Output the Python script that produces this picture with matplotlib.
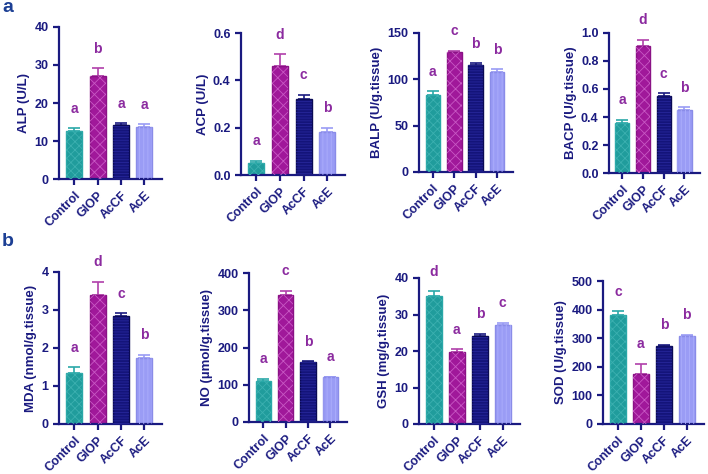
import matplotlib
matplotlib.use("Agg")
import matplotlib.pyplot as plt

plt.rcParams['font.family'] = ['Liberation Sans', 'DejaVu Sans']
plt.rcParams['hatch.linewidth'] = 0.6

# ---------------------------- data ----------------------------
groups = ['Control', 'GIOP', 'AcCF', 'AcE']

alp = [12.7, 27.2, 14.2, 13.7]
alp_err = [0.6, 2.0, 0.5, 0.7]
alp_sig = ['a', 'b', 'a', 'a']

acp = [0.05, 0.46, 0.32, 0.18]
acp_err = [0.01, 0.05, 0.02, 0.02]
acp_sig = ['a', 'd', 'c', 'b']

balp = [83, 129, 116, 108]
balp_err = [4, 2, 1.5, 3]
balp_sig = ['a', 'c', 'b', 'b']

bacp = [0.36, 0.91, 0.55, 0.45]
bacp_err = [0.02, 0.04, 0.02, 0.02]
bacp_sig = ['a', 'd', 'c', 'b']

mda = [1.35, 3.4, 2.83, 1.75]
mda_err = [0.15, 0.35, 0.08, 0.07]
mda_sig = ['a', 'd', 'c', 'b']

no = [110, 342, 160, 120]
no_err = [6, 10, 3, 2]
no_sig = ['a', 'c', 'b', 'a']

gsh = [35.2, 19.7, 24.2, 27.2]
gsh_err = [1.2, 0.8, 0.5, 0.5]
gsh_sig = ['d', 'a', 'b', 'c']

sod = [380, 176, 272, 306]
sod_err = [15, 35, 5, 6]
sod_sig = ['c', 'a', 'b', 'b']

# ---------------------------- style ---------------------------
NAVY = '#1a1a80'
SIG_COLOR = '#8b2a9f'
FACE = ['#209c9c', '#a0189a', '#14147a', '#9a9cf5']
EDGE = ['#2aa8a8', '#8a1285', '#0a0a55', '#8a8ce8']
HATCH = ['xxxx', 'xxx', '------', '||||']
HATCH_COLOR = ['#3cb0b0', '#c858c4', '#26269a', '#acaefc']
ERR_COLOR = ['#2aa8a8', '#b040aa', '#1a1a80', '#9a9cf5']

W, H = 708, 474

# panel rectangles in pixels: left, right, top, bottom
panels = [
    (alp, alp_err, alp_sig, 'ALP (U/L)', 40, 10, '{:.0f}', (59, 162, 27, 179)),
    (acp, acp_err, acp_sig, 'ACP (U/L)', 0.6, 0.2, '{:.1f}', (241, 345, 33, 175)),
    (balp, balp_err, balp_sig, 'BALP (U/g.tissue)', 150, 50, '{:.0f}', (419, 513, 33, 172)),
    (bacp, bacp_err, bacp_sig, 'BACP (U/g.tissue)', 1.0, 0.2, '{:.1f}', (609, 700, 33, 173)),
    (mda, mda_err, mda_sig, 'MDA (nmol/g.tissue)', 4, 1, '{:.0f}', (59, 162, 272, 424)),
    (no, no_err, no_sig, 'NO (\u00b5mol/g.tissue)', 400, 100, '{:.0f}', (249, 347, 273, 422)),
    (gsh, gsh_err, gsh_sig, 'GSH (mg/g.tissue)', 40, 10, '{:.0f}', (419, 520, 278, 424)),
    (sod, sod_err, sod_sig, 'SOD (U/g.tissue)', 500, 100, '{:.0f}', (603, 704, 281, 424)),
]

fig = plt.figure(figsize=(W / 100, H / 100), dpi=100)

for vals, errs, sig, ylabel, ymax, step, fmt, (l, r, t, b) in panels:
    ax = fig.add_axes([l / W, 1 - b / H, (r - l) / W, (b - t) / H])
    x = range(len(groups))
    ax.bar(x, vals, width=0.68, color=FACE, edgecolor=EDGE, linewidth=1.0, zorder=2)
    for i in x:
        ax.bar(i, vals[i], width=0.68, facecolor='none', edgecolor=HATCH_COLOR[i],
               hatch=HATCH[i], linewidth=0, zorder=3)
        ax.errorbar(i, vals[i], yerr=[[0], [errs[i]]], fmt='none', ecolor=ERR_COLOR[i],
                    elinewidth=1.2, capsize=4, capthick=1.2, zorder=1)
        ax.annotate(sig[i], (i, vals[i] + errs[i]), xytext=(0, 9), textcoords='offset points',
                    ha='center', va='bottom', color=SIG_COLOR, fontsize=10, fontweight='bold')

    ax.set_xlim(-0.65, 3.75)
    ax.set_ylim(0, ymax)
    ticks = [k * step for k in range(int(round(ymax / step)) + 1)]
    ax.set_yticks(ticks)
    ax.set_yticklabels([fmt.format(v) for v in ticks])
    ax.set_xticks(list(x))
    ax.set_xticklabels(groups, rotation=45, ha='right', rotation_mode='anchor')

    for s in ['top', 'right']:
        ax.spines[s].set_visible(False)
    for s in ['left', 'bottom']:
        ax.spines[s].set_color(NAVY)
        ax.spines[s].set_linewidth(1.6)
    ax.tick_params(colors=NAVY, width=1.6, length=4, labelsize=9)
    for lab in ax.get_xticklabels() + ax.get_yticklabels():
        lab.set_fontweight('bold')
    ax.set_ylabel(ylabel, color=NAVY, fontsize=9.5, fontweight='bold', labelpad=3)

fig.text(2 / W, 1 - 8 / H, 'a', color='#1c3f94', fontsize=14, fontweight='bold', va='center')
fig.text(2 / W, 1 - 241 / H, 'b', color='#1c3f94', fontsize=14, fontweight='bold', va='center')

fig.savefig('out.png', dpi=100)
